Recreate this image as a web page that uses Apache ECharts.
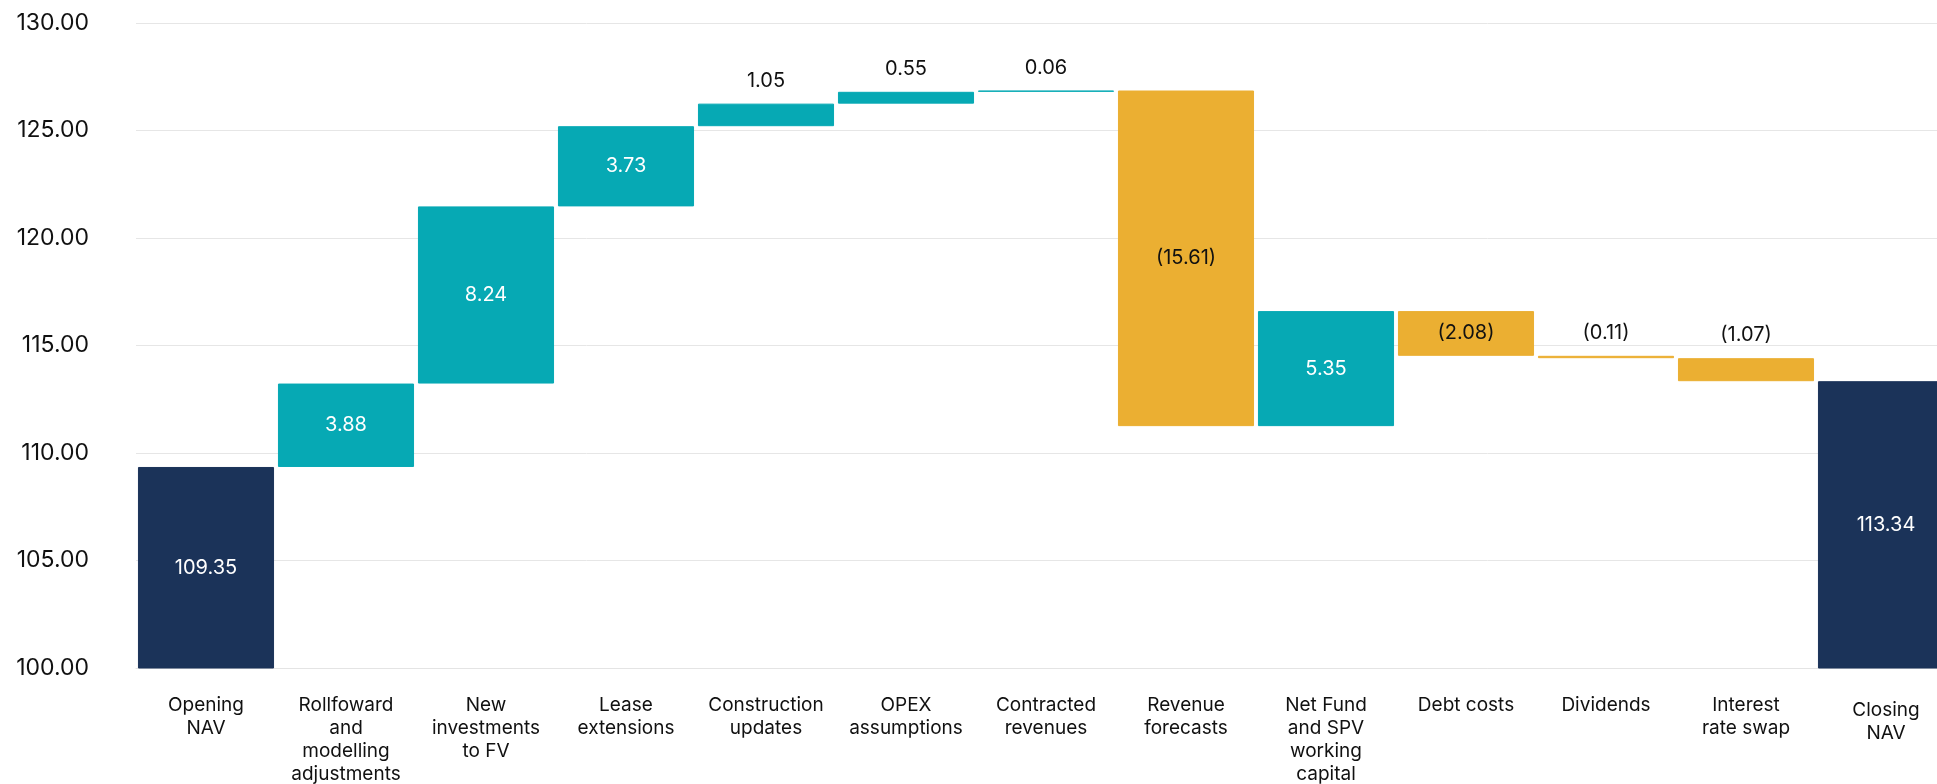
<!DOCTYPE html>
<html>
<head>
<meta charset="utf-8">
<script src="https://cdn.jsdelivr.net/npm/echarts@6/dist/echarts.min.js"></script>
<style>
  html, body { margin: 0; padding: 0; background: #ffffff; }
  #chart { width: 1937px; height: 784px; }
</style>
</head>
<body>
<div id="chart"></div>
<script>
// NAV bridge: opening value, movements, closing value
const categories = [
  'Opening\nNAV',
  'Rollfoward\nand\nmodelling\nadjustments',
  'New\ninvestments\nto FV',
  'Lease\nextensions',
  'Construction\nupdates',
  'OPEX\nassumptions',
  'Contracted\nrevenues',
  'Revenue\nforecasts',
  'Net Fund\nand SPV\nworking\ncapital',
  'Debt costs',
  'Dividends',
  'Interest\nrate swap',
  'Closing\nNAV'
];
const openingNav = 109.35;
const movements = [3.88, 8.24, 3.73, 1.05, 0.55, 0.06, -15.61, 5.35, -2.08, -0.11, -1.07];
const closingNav = 113.34;
const yTicks = [100, 105, 110, 115, 120, 125, 130];

const NAVY = '#1b3359';
const TEAL = '#06a9b4';
const GOLD = '#ebaf32';
const FONT = 'Inter';

function fmt(v) {
  return v < 0 ? '(' + Math.abs(v).toFixed(2) + ')' : v.toFixed(2);
}

function fill(color) {
  return { color: color, borderColor: color, borderWidth: 1 };
}

// Build invisible bases and visible bar heights for the waterfall
const baseData = [];
const barData = [];
baseData.push(0);
barData.push({
  value: openingNav, raw: openingNav,
  itemStyle: fill(NAVY),
  label: { position: 'inside', color: '#ffffff' }
});
let running = openingNav;
movements.forEach(function (m) {
  const next = running + m;
  const low = Math.min(running, next);
  const up = m >= 0;
  const tall = Math.abs(m) >= 2;
  baseData.push(+low.toFixed(2));
  barData.push({
    value: +Math.abs(m).toFixed(2), raw: m,
    itemStyle: fill(up ? TEAL : GOLD),
    label: tall
      ? { position: 'inside', color: up ? '#ffffff' : '#111111' }
      : { position: 'top', distance: 13, color: '#111111' }
  });
  running = next;
});
baseData.push(0);
barData.push({
  value: closingNav, raw: closingNav,
  itemStyle: fill(NAVY),
  label: { position: 'inside', color: '#ffffff' }
});

// The closing label sits a little lower than the others
const xAxisData = categories.map(function (c, i) {
  return i === categories.length - 1
    ? { value: c, textStyle: { padding: [5, 0, 0, 0] } }
    : c;
});

const chart = echarts.init(document.getElementById('chart'), null, { renderer: 'canvas' });
chart.setOption({
  animation: false,
  backgroundColor: '#ffffff',
  grid: {
    left: 136, top: 23, width: 1820, height: 645,
    containLabel: false,
    outerBoundsMode: 'none'
  },
  xAxis: {
    type: 'category',
    data: xAxisData,
    axisLine: { show: true, lineStyle: { color: '#e4e4e4', width: 1 } },
    axisTick: { show: false },
    axisLabel: {
      interval: 0,
      margin: 26,
      color: '#111111',
      fontFamily: FONT,
      fontSize: 19,
      lineHeight: 23
    }
  },
  yAxis: {
    type: 'value',
    min: yTicks[0],
    max: yTicks[yTicks.length - 1],
    interval: yTicks[1] - yTicks[0],
    axisLine: { show: false },
    axisTick: { show: false },
    splitLine: { lineStyle: { color: '#e6e6e6', width: 1 } },
    axisLabel: {
      margin: 47,
      color: '#111111',
      fontFamily: FONT,
      fontSize: 23,
      formatter: function (v) { return v.toFixed(2); }
    }
  },
  series: [
    {
      name: 'base',
      type: 'bar',
      stack: 'bridge',
      silent: true,
      itemStyle: { color: 'transparent' },
      data: baseData,
      barCategoryGap: '2.8%'
    },
    {
      name: 'NAV',
      type: 'bar',
      stack: 'bridge',
      clip: true,
      barCategoryGap: '2.8%',
      data: barData,
      label: {
        show: true,
        fontFamily: FONT,
        fontSize: 20,
        formatter: function (p) { return fmt(p.data.raw); }
      }
    }
  ]
});
</script>
</body>
</html>
